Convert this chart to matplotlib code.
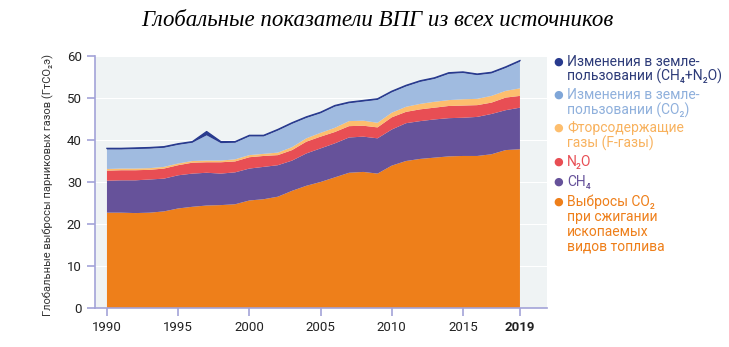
import matplotlib
matplotlib.use("Agg")
import matplotlib.pyplot as plt
import numpy as np

years = list(range(1990, 2020))
fossil_co2 = [22.7,22.7,22.6,22.7,23.0,23.7,24.1,24.4,24.5,24.7,25.6,25.9,26.5,27.9,29.1,30.0,31.1,32.2,32.4,32.0,33.9,35.0,35.5,35.8,36.1,36.2,36.2,36.6,37.6,37.8]
ch4 = [7.6,7.7,7.8,7.9,7.8,7.9,7.9,7.8,7.5,7.6,7.6,7.7,7.5,7.2,7.7,8.0,8.1,8.4,8.4,8.4,8.6,9.0,9.0,9.1,9.1,9.1,9.3,9.6,9.5,9.9]
n2o = [2.4,2.4,2.4,2.3,2.4,2.4,2.6,2.5,2.7,2.6,2.7,2.6,2.4,2.5,2.8,2.8,2.7,2.7,2.6,2.6,2.9,2.7,2.8,2.8,2.9,2.9,2.8,2.7,3.0,2.8]
fgas = [0.4,0.4,0.4,0.4,0.4,0.4,0.4,0.4,0.4,0.5,0.5,0.5,0.6,0.7,0.8,0.9,1.0,1.2,1.2,1.1,1.1,1.2,1.3,1.4,1.4,1.5,1.5,1.6,1.6,1.8]
luc_co2 = [4.65,4.55,4.65,4.65,4.55,4.45,4.35,6.0,4.15,3.95,4.45,4.15,5.25,5.55,4.85,4.65,5.05,4.25,4.55,5.45,4.85,4.85,5.25,5.45,6.25,6.25,5.65,5.35,5.45,6.35]
luc_other = [0.25]*7 + [0.9, 0.35] + [0.25]*21

series = [fossil_co2, ch4, n2o, fgas, luc_co2, luc_other]
colors = ["#EE7F1A", "#66529A", "#E84E54", "#FDBE6E", "#A0BBE0", "#283A8E"]

legend_entries = [
    (["Изменения в земле-", "пользовании (CH₄+N₂O)"], "#283A8E", "#2C3A78"),
    (["Изменения в земле-", "пользовании (CO₂)"], "#7FA6D8", "#8FB0DC"),
    (["Фторсодержащие", "газы (F-газы)"], "#FDBE6E", "#F8B25E"),
    (["N₂O"], "#E84E54", "#E84E54"),
    (["CH₄"], "#66529A", "#66529A"),
    (["Выбросы CO₂", "при сжигании", "ископаемых", "видов топлива"], "#EE7F1A", "#EE7F1A"),
]
legend_y = [61.7, 95, 128, 161.7, 181.7, 201.7]

title = "Глобальные показатели ВПГ из всех источников"
ylabel = "Глобальные выбросы парниковых газов (ГтCO₂э)"
xticks = [1990, 1995, 2000, 2005, 2010, 2015, 2019]
yticks = [0, 10, 20, 30, 40, 50, 60]

W, H = 729, 347
fig = plt.figure(figsize=(W/100, H/100), dpi=100)
ax = fig.add_axes([95/W, 1-308/H, (547-95)/W, (308-56)/H])
ax.set_facecolor("#EFF3F4")
ax.set_axisbelow(True)
ax.grid(axis="y", color="white", lw=0.8)

ax.stackplot(years, *series, colors=colors, lw=0)
total = np.sum(np.array(series), axis=0)
ax.plot(years, total, color="#283A8E", lw=1.0)

ax.set_xlim(1989.16, 2020.9)
ax.set_ylim(0, 60)
ax.set_xticks(xticks)
ax.set_yticks(yticks)
spc = "#A3A3D8"
for s in ["top", "right"]:
    ax.spines[s].set_visible(False)
for s in ["left", "bottom"]:
    ax.spines[s].set_color(spc)
    ax.spines[s].set_linewidth(1.2)
ax.tick_params(colors=spc, length=6, width=1.2, labelcolor="#222222", labelsize=9.5)
for lab in ax.get_xticklabels() + ax.get_yticklabels():
    lab.set_family(["Roboto", "DejaVu Sans"])
ax.get_xticklabels()[-1].set_fontweight("bold")

fig.text(48/W, 1-185/H, ylabel, rotation=90, ha="center", va="center",
         fontsize=8, family=["Roboto", "DejaVu Sans"], color="#333333")
fig.text(377/W, 1-20/H, title, ha="center", va="center", fontsize=16.5,
         family="Liberation Serif", style="italic", color="black")

for (lines, dot_c, txt_c), y0 in zip(legend_entries, legend_y):
    fig.text(558/W, 1-y0/H, "●", ha="center", va="center", fontsize=8, color=dot_c,
             family="DejaVu Sans")
    for i, ln in enumerate(lines):
        fig.text(567/W, 1-(y0+i*15)/H, ln, ha="left", va="center", fontsize=10,
                 color=txt_c, family=["Roboto", "DejaVu Sans"])

fig.savefig("out.png", dpi=100)
